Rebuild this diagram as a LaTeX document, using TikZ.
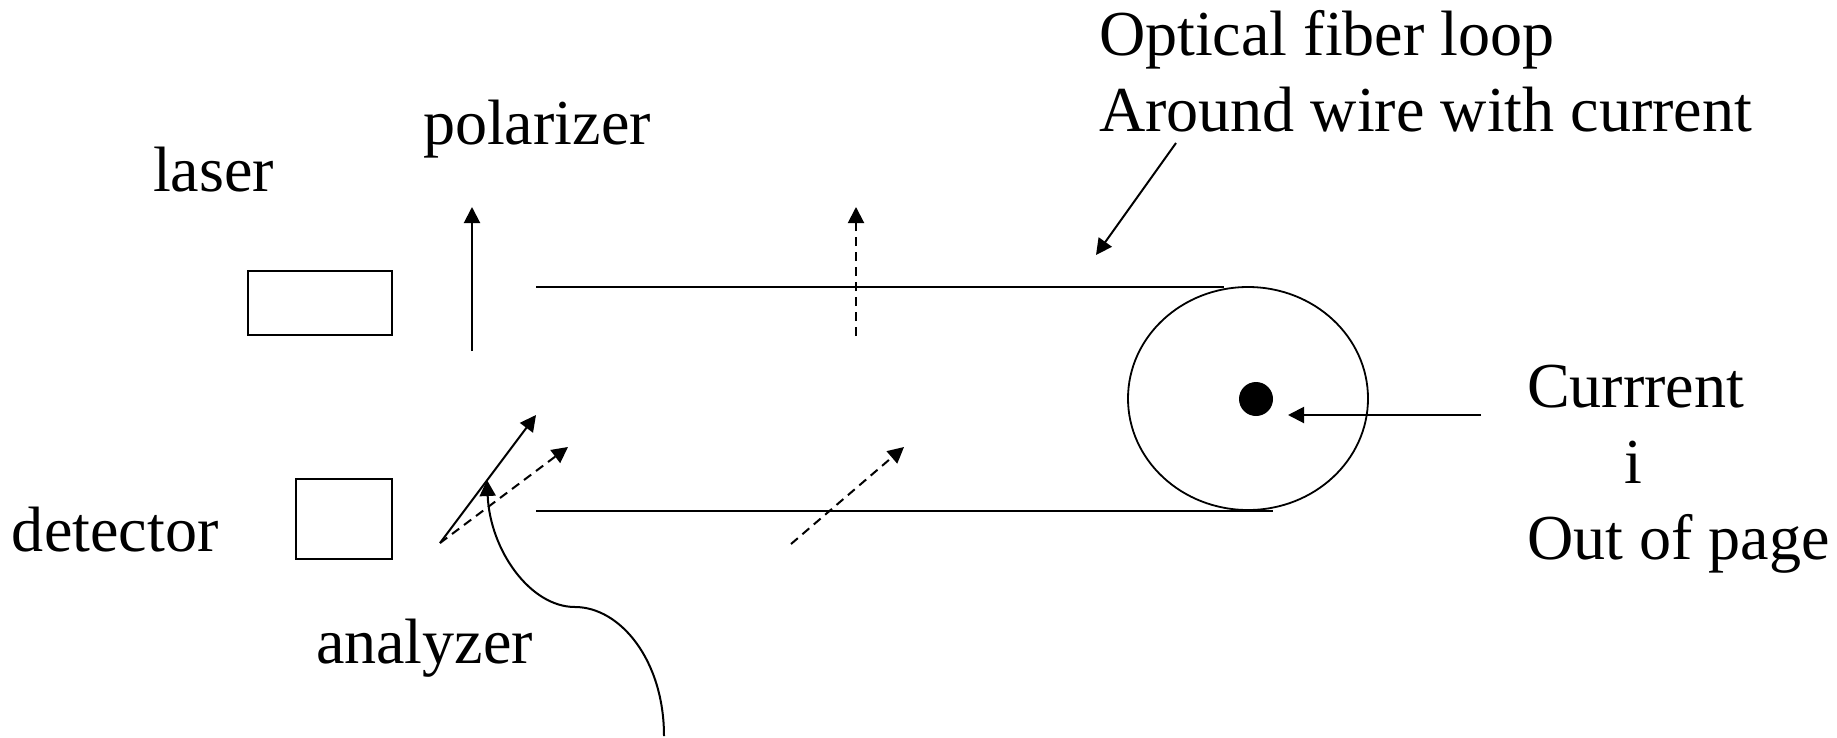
\documentclass[tikz,border=0pt]{standalone}
\usepackage{fontspec}
\setmainfont{Liberation Serif}
\usetikzlibrary{arrows.meta,shapes.geometric}
\tikzset{
  x=1pt,y=-1pt,
  ln/.style={line width=2pt,black},
  thin ln/.style={line width=1.8pt,black},
  arr/.style={ln,-{Triangle[length=16pt,width=16pt]}},
  darr/.style={arr,dash pattern=on 9pt off 6pt},
  lbl/.style={anchor=base west,inner sep=0pt,outer sep=0pt,font=\fontsize{64.1}{76}\selectfont},
}
\begin{document}
\begin{tikzpicture}
\useasboundingbox (0,0) rectangle (1837,737);
% labels
\node[lbl] (t1) at (1099,55) {Optical fiber loop};
\node[lbl] (t2) at (1099,131) {Around wire with current};
\node[lbl] (pol) at (423,144) {polarizer};
\node[lbl] (las) at (153,191) {laser};
\node[lbl] (det) at (12,551) {detector};
\node[lbl] (ana) at (316,663) {analyzer};
\node[lbl] (c1) at (1527,407) {Currrent};
\node[lbl] (c2) at (1624,483) {i};
\node[lbl] (c3) at (1527,559) {Out of page};
% boxes
\node[draw,ln,inner sep=0pt,minimum width=144pt,minimum height=64pt] (laser) at (320,303) {};
\node[draw,ln,inner sep=0pt,minimum width=96pt,minimum height=80pt] (detector) at (344,519) {};
% loop
\node[draw,thin ln,ellipse,inner sep=0pt,minimum width=240pt,minimum height=223pt] (loop) at (1248,398.5) {};
\node[fill=black,circle,inner sep=0pt,minimum size=34pt] (wire) at (1256,399) {};
% coordinates
\coordinate (p0) at (472,351); \coordinate (p1) at (472,207);
\coordinate (d0) at (856,336); \coordinate (d1) at (856,207);
\coordinate (a0) at (440,543); \coordinate (a1) at (536,415); \coordinate (a2) at (568,447);
\coordinate (e0) at (791,544); \coordinate (e1) at (904,447);
\coordinate (top0) at (536,287); \coordinate (top1) at (1224,287);
\coordinate (bot0) at (536,511); \coordinate (bot1) at (1273,511);
\coordinate (f0) at (1176,143); \coordinate (f1) at (1096,255);
\coordinate (i0) at (1481,415); \coordinate (i1) at (1288,415);
\coordinate (s0) at (664,736); \coordinate (s1) at (575,607); \coordinate (s2) at (487,480);
% connectors
\draw[ln] (top0) -- (top1);
\draw[ln] (bot0) -- (bot1);
\draw[arr] (p0) -- (p1);
\draw[darr] (d0) -- (d1);
\draw[arr] (a0) -- (a1);
\draw[darr] (a0) -- (a2);
\draw[darr] (e0) -- (e1);
\draw[arr] (f0) -- (f1);
\draw[arr] (i0) -- (i1);
\draw[arr] (s0) .. controls (664,660) and (620,607) .. (s1) .. controls (530,607) and (490,550) .. (s2);
\end{tikzpicture}
\end{document}
